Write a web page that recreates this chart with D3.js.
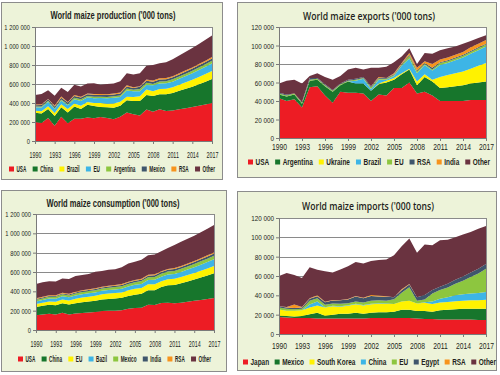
<!DOCTYPE html>
<html>
<head>
<meta charset="utf-8">
<script src="https://cdnjs.cloudflare.com/ajax/libs/d3/7.8.5/d3.min.js"></script>
<style>
html, body { margin: 0; padding: 0; background: #fff; }
svg { display: block; }
</style>
</head>
<body>
<svg id="chart" width="500" height="375"></svg>
<script>
// values in million tons (axis labels show '000 tons)
const years = [1990, 1991, 1992, 1993, 1994, 1995, 1996, 1997, 1998, 1999, 2000, 2001, 2002, 2003,
  2004, 2005, 2006, 2007, 2008, 2009, 2010, 2011, 2012, 2013, 2014, 2015, 2016, 2017];
const xTicks = [1990, 1993, 1996, 1999, 2002, 2005, 2008, 2011, 2014, 2017];
const bigTicks = [0, 200, 400, 600, 800, 1000, 1200];
const tradeTicks = [0, 20, 40, 60, 80, 100, 120];

// production
const prodKeys = ['USA', 'China', 'Brazil', 'EU', 'Argentina', 'Mexico', 'RSA', 'Other'];
const prodUSA = [201,190,241,161,255,188,235,234,248,240,252,241,228,256,300,282,268,331,307,333,316,320,333,345,357,370,385,400];
const prodChina = [97,99,95,103,99,112,128,104,133,128,106,114,121,116,130,139,152,152,166,158,177,185,195,205,215,228,240,252];
const prodBrazil = [21,24,31,30,33,36,32,33,30,32,42,36,45,42,35,42,51,59,51,56,58,60,64,68,72,76,80,84];
const prodEU = [35,40,45,42,40,40,45,50,50,50,52,58,60,50,66,60,54,48,62,57,56,60,63,66,70,73,77,81];
const prodArgentina = [8,11,11,10,11,11,16,19,14,17,15,15,16,15,21,16,23,22,15,23,23,24,24,25,26,27,27,28];
const prodMexico = [14,14,16,18,18,18,18,17,18,19,17,20,19,21,22,19,22,23,24,20,21,21,21,22,22,23,23,24];
const prodRSA = [9,8,3,10,13,5,10,10,8,8,11,8,10,10,12,7,7,13,13,13,11,12,12,13,13,14,14,15];
const prodOther = [99,108,92,102,91,107,108,107,105,114,97,108,105,118,128,134,135,145,161,159,167,178,188,196,205,209,219,226];

// exports
const expKeys = ['USA', 'Argentina', 'Ukraine', 'Brazil', 'EU', 'RSA', 'India', 'Other'];
const expUSA = [43,40,42,33,55,56,46,38,50,49,49,48,40,47,46,54,54,60,48,50,46,40,40,40,40,41,41,41];
const expArgentina = [4,5,5,4,7,7,10,12,7,12,10,11,11,11,14,9,15,14,9,16,15,14,15,16,17,18,19,20];
const expUkraine = [0,0,0,0,0,0,0,0,0,0,0,0,0,1,2,2,1,1,4,3,2,12,13,14,15,16,18,20];
const expBrazil = [0,0,0,0,0,0,0,0,0,0,3,5,2,4,1,2,8,11,9,10,10,13,13,14,15,16,17,18];
const expEU = [1,1,1,1,1,1,1,1,1,1,1,1,2,1,1,1,1,3,2,1,1,2,2,2,2,2,2,2];
const expRSA = [1,1,0,1,2,1,1,1,1,1,1,1,1,1,1,1,1,1,1,1,2,1,1,1,1,1,1,1];
const expIndia = [0,0,0,0,0,0,0,0,0,0,0,0,0,1,0,1,1,2,3,2,4,3,3,3,3,4,4,4];
const expOther = [10,15,15,20,2,5,8,11,8,11,12,8,20,10,12,12,7,5,4,9,11,10,10,9,9,7,6,5];

// consumption
const conKeys = ['USA', 'China', 'EU', 'Bazil', 'Mexico', 'India', 'RSA', 'Other'];
const conUSA = [153,161,168,160,178,160,170,175,180,185,196,198,200,205,220,228,230,260,258,280,283,278,283,292,302,311,320,330];
const conChina = [86,89,93,97,100,104,108,112,115,117,120,123,125,128,131,137,145,150,153,165,180,188,200,210,220,232,245,258];
const conEU = [30,32,34,36,38,40,44,48,50,52,54,56,58,56,60,62,60,62,62,60,62,63,64,66,68,70,72,74];
const conBrazil = [27,28,30,31,33,34,35,36,35,35,35,36,37,38,39,40,42,44,46,47,49,51,54,57,60,63,66,70];
const conMexico = [16,17,18,19,20,20,21,22,23,23,24,25,25,26,27,28,29,30,30,30,30,31,32,33,33,34,35,36];
const conIndia = [9,9,9,9,9,10,10,10,11,11,11,12,12,13,14,14,15,16,17,17,18,19,19,20,21,21,22,23];
const conRSA = [8,8,7,7,8,8,8,8,8,8,8,9,9,9,9,9,9,10,10,10,10,11,11,11,11,12,12,12];
const conOther = [148,149,146,144,147,152,162,159,158,172,162,163,162,173,188,189,198,200,204,206,216,239,249,255,261,269,276,283];

// imports
const impKeys = ['Japan', 'Mexico', 'South Korea', 'China', 'EU', 'Egypt', 'RSA', 'Other'];
const impJapan = [17.5,17,16.5,16.5,16.5,16,16,16,16,16,16,16,16.5,16.5,16.5,16.5,16.5,16.5,16,15.5,15.5,15,15,15,15,15,14.5,14.5];
const impMexico = [1.5,1.5,1.5,2,4,6,3,4,5,5,6,5,5.5,6,6,6.5,8.5,8.5,7.8,8.3,7.5,9.5,10,10.5,11,11,11.5,11.5];
const impKorea = [6.3,5.5,6,6,7,7.5,8.3,8.6,7.3,8.2,8.7,8.5,8.9,8.8,8.5,8,8.7,9.3,7.7,8.5,8,8,8,8.5,8.5,9,9,9.5];
const impChina = [0,0,0,0,3,4,0.5,0.5,0.5,0.5,0.5,0.5,0.5,0.5,0.5,0,0,0,0,0.5,2.5,4,5,6,6.5,7,7.5,8];
const impEU = [2,2,1.5,1.5,4,3.5,2.5,2.5,2.5,2,2.5,2.5,3,3,3,5,9,14,3,3,8.5,9,10,12,14,17,20,24];
const impEgypt = [1.5,1.5,1.5,1.5,2,2,2.5,3,3.5,4,5,4.5,5,4,4,2,2.5,3,3.5,4.5,3.5,3.5,4,4,4.5,4.5,5,5];
const impRSA = [0,0.5,3.5,0.5,0.5,1,0.5,0.5,0.5,0.5,0.5,0.5,1,1,0.5,0,1,0.5,0,0,0,0,0,0,0,0,0,0];
const impOther = [31.2,35,30.5,30,32,26.5,31.7,28.4,31.3,33.8,35.3,35.5,35.1,36.8,38,43.4,44.5,46.9,46,52.2,46.3,48,45.6,44,43.5,42.1,41.5,39.3];

const colors = ['#ed1c24', '#17762c', '#fff200', '#3db5e6', '#8dc63f', '#3f566c', '#f7941d', '#6a3340'];
const sans = "'Liberation Sans', Arial, sans-serif";

// two looks: condensed (left panels) and plain (right panels)
const narrowStyle = { titleFont: sans, titleWeight: 'bold', legSqueeze: 0.55, yFont: 8, ySqueeze: 0.72,
  xFont: 9.5, xSqueeze: 0.56 };
const plainStyle = { titleFont: "'Open Sans', sans-serif", titleWeight: 600, legSqueeze: 0.76, yFont: 8, ySqueeze: 0.79,
  xFont: 9, xSqueeze: 0.75 };

const panels = [
  { title: "World maize production ('000 tons)", keys: prodKeys,
    series: [prodUSA, prodChina, prodBrazil, prodEU, prodArgentina, prodMexico, prodRSA, prodOther],
    ticks: bigTicks, box: [1.5, 2.5, 221, 177], plot: [35, 27, 212, 141], style: narrowStyle,
    titleX: 113, titleY: 15, titleW: 125, xLabY: 154.2, legend: [9, 215, 169] },
  { title: "World maize exports ('000 tons)", keys: expKeys,
    series: [expUSA, expArgentina, expUkraine, expBrazil, expEU, expRSA, expIndia, expOther],
    ticks: tradeTicks, box: [237.5, 2.5, 259, 175], plot: [279, 27, 486, 138], style: plainStyle,
    titleX: 369, titleY: 15.7, titleW: 132, xLabY: 147.3, legend: [248, 490, 162] },
  { title: "World maize consumption ('000 tons)", keys: conKeys,
    series: [conUSA, conChina, conEU, conBrazil, conMexico, conIndia, conRSA, conOther],
    ticks: bigTicks, box: [1.5, 190.5, 225, 181], plot: [36, 214, 214, 330], style: narrowStyle,
    titleX: 113, titleY: 202.7, titleW: 133, xLabY: 343.3, legend: [18, 211, 359] },
  { title: "World maize imports ('000 tons)", keys: impKeys,
    series: [impJapan, impMexico, impKorea, impChina, impEU, impEgypt, impRSA, impOther],
    ticks: tradeTicks, box: [237.5, 191.5, 259, 179], plot: [279, 218, 486, 334], style: plainStyle,
    titleX: 368, titleY: 206, titleW: 132, xLabY: 345.7, legend: [243, 496, 362] }
];

const yFormat = v => v === 0 ? '0' : d3.format(',')(v * 1000).replace(/,/g, ' ');

// squeeze text horizontally
function squeeze(sel, k) {
  sel.each(function() {
    const w = this.getComputedTextLength();
    this.setAttribute('textLength', w * k);
    this.setAttribute('lengthAdjust', 'spacingAndGlyphs');
  });
}

function drawPanel(svg, p) {
  const g = svg.append('g');
  const s = p.style;
  const [l, t, r, b] = p.plot;

  g.append('rect')
    .attr('x', p.box[0]).attr('y', p.box[1])
    .attr('width', p.box[2]).attr('height', p.box[3])
    .attr('fill', '#edf3d9').attr('stroke', '#8c8c8c');

  const x = d3.scaleLinear().domain([years[0], years[years.length - 1]]).range([l, r]);
  const y = d3.scaleLinear().domain([0, p.ticks[p.ticks.length - 1]]).range([b, t]);

  g.append('rect').attr('x', l).attr('y', t).attr('width', r - l).attr('height', b - t).attr('fill', '#fff');

  // grid
  g.selectAll('line.grid').data(p.ticks.slice(1)).join('line')
    .attr('x1', l).attr('x2', r)
    .attr('y1', d => Math.round(y(d)) + 0.5).attr('y2', d => Math.round(y(d)) + 0.5)
    .attr('stroke', '#8a8a8a').attr('stroke-width', 1.2);

  const rows = years.map((yr, i) => {
    const row = { year: yr };
    p.keys.forEach((k, j) => { row[k] = p.series[j][i]; });
    return row;
  });
  const stacked = d3.stack().keys(p.keys)(rows);
  const area = d3.area()
    .x(d => x(d.data.year))
    .y0(d => y(d[0]))
    .y1(d => y(d[1]));

  g.selectAll('path.layer').data(stacked).join('path')
    .attr('class', 'layer')
    .attr('d', area)
    .attr('fill', (d, i) => colors[i]);

  // right border of plot
  g.append('line').attr('x1', Math.round(r) + 0.5).attr('x2', Math.round(r) + 0.5)
    .attr('y1', t).attr('y2', b).attr('stroke', '#8a8a8a');

  const yAxis = g.append('g').attr('transform', `translate(${l},0)`)
    .call(d3.axisLeft(y).tickValues(p.ticks).tickSize(3).tickPadding(2).tickFormat(yFormat));
  const xAxis = g.append('g').attr('transform', `translate(0,${b})`)
    .call(d3.axisBottom(x).tickValues(xTicks).tickSize(3).tickFormat(d3.format('d')));

  [yAxis, xAxis].forEach(ax => {
    ax.select('.domain').attr('stroke', '#7a7a7a');
    ax.selectAll('.tick line').attr('stroke', '#7a7a7a');
    ax.selectAll('text').attr('fill', '#231f20').style('font-family', sans);
  });
  yAxis.selectAll('text').style('font-size', s.yFont + 'px');
  squeeze(yAxis.selectAll('text'), s.ySqueeze);
  xAxis.selectAll('text').style('font-size', s.xFont + 'px')
    .attr('dy', null)
    .attr('y', p.xLabY - b + s.xFont * 0.35);
  squeeze(xAxis.selectAll('text'), s.xSqueeze);

  // title
  g.append('text')
    .attr('x', p.titleX)
    .attr('y', p.titleY + 3.9)
    .attr('text-anchor', 'middle')
    .style('font-family', s.titleFont).style('font-weight', s.titleWeight)
    .style('font-size', '11px').attr('fill', '#231f20')
    .attr('textLength', p.titleW).attr('lengthAdjust', 'spacingAndGlyphs')
    .text(p.title);

  // legend: labels narrowed with a horizontal scale
  const [lx0, lx1, ly] = p.legend;
  const sq = 5;
  const pad = 2.5;
  const leg = g.append('g');
  const items = leg.selectAll('g').data(p.keys).join('g');
  const labels = items.append('text')
    .style('font-family', sans).style('font-weight', 'bold').style('font-size', '8.5px')
    .attr('fill', '#231f20')
    .text(d => d);
  const widths = [];
  labels.each(function() { widths.push(this.getComputedTextLength() * s.legSqueeze); });
  const total = d3.sum(widths) + p.keys.length * (sq + pad);
  const gap = (lx1 - lx0 - total) / (p.keys.length - 1);
  let cx = lx0;
  items.each(function(d, i) {
    leg.append('rect').attr('x', cx).attr('y', ly - sq / 2).attr('width', sq).attr('height', sq)
      .attr('fill', colors[i]);
    d3.select(this).attr('transform', `translate(${cx + sq + pad},${ly + 3}) scale(${s.legSqueeze},1)`);
    cx += sq + pad + widths[i] + gap;
  });
}

const svg = d3.select('#chart');
svg.append('rect').attr('width', 500).attr('height', 375).attr('fill', '#fff');
panels.forEach(p => drawPanel(svg, p));
</script>
</body>
</html>
